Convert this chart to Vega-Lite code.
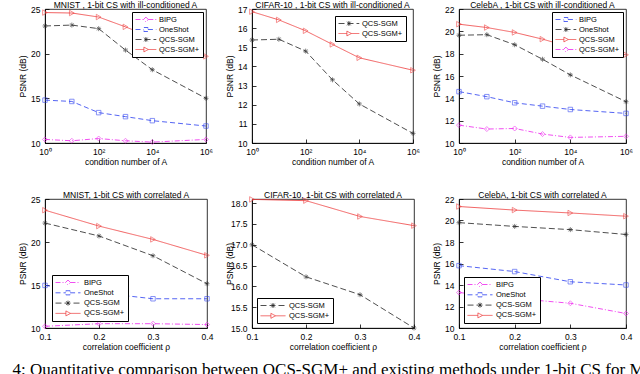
{
 "$schema": "https://vega.github.io/schema/vega-lite/v6.json",
 "padding": {"left": 12, "top": 0, "right": 0, "bottom": 0},
 "background": "white",
 "data": {"values": [
  {"p":"a","s":"QCS-SGM+","x":1,"y":24.6},{"p":"a","s":"QCS-SGM+","x":10,"y":24.55},{"p":"a","s":"QCS-SGM+","x":100,"y":24.1},{"p":"a","s":"QCS-SGM+","x":1000,"y":23.0},{"p":"a","s":"QCS-SGM+","x":10000,"y":21.8},{"p":"a","s":"QCS-SGM+","x":1000000,"y":19.7},
  {"p":"a","s":"QCS-SGM","x":1,"y":23.1},{"p":"a","s":"QCS-SGM","x":10,"y":23.2},{"p":"a","s":"QCS-SGM","x":100,"y":22.8},{"p":"a","s":"QCS-SGM","x":1000,"y":20.4},{"p":"a","s":"QCS-SGM","x":10000,"y":18.2},{"p":"a","s":"QCS-SGM","x":1000000,"y":15.0},
  {"p":"a","s":"OneShot","x":1,"y":14.8},{"p":"a","s":"OneShot","x":10,"y":14.65},{"p":"a","s":"OneShot","x":100,"y":13.4},{"p":"a","s":"OneShot","x":1000,"y":12.95},{"p":"a","s":"OneShot","x":10000,"y":12.5},{"p":"a","s":"OneShot","x":1000000,"y":11.9},
  {"p":"a","s":"BIPG","x":1,"y":10.4},{"p":"a","s":"BIPG","x":10,"y":10.25},{"p":"a","s":"BIPG","x":100,"y":10.5},{"p":"a","s":"BIPG","x":1000,"y":10.25},{"p":"a","s":"BIPG","x":10000,"y":10.1},{"p":"a","s":"BIPG","x":1000000,"y":10.4},
  {"p":"b","s":"QCS-SGM+","x":1,"y":16.86},{"p":"b","s":"QCS-SGM+","x":10,"y":16.43},{"p":"b","s":"QCS-SGM+","x":100,"y":15.86},{"p":"b","s":"QCS-SGM+","x":1000,"y":15.15},{"p":"b","s":"QCS-SGM+","x":10000,"y":14.45},{"p":"b","s":"QCS-SGM+","x":1000000,"y":13.8},
  {"p":"b","s":"QCS-SGM","x":1,"y":15.38},{"p":"b","s":"QCS-SGM","x":10,"y":15.42},{"p":"b","s":"QCS-SGM","x":100,"y":14.8},{"p":"b","s":"QCS-SGM","x":1000,"y":13.3},{"p":"b","s":"QCS-SGM","x":10000,"y":12.04},{"p":"b","s":"QCS-SGM","x":1000000,"y":10.5},
  {"p":"c","s":"QCS-SGM","x":1,"y":20.64},{"p":"c","s":"QCS-SGM","x":10,"y":20.34},{"p":"c","s":"QCS-SGM","x":100,"y":19.9},{"p":"c","s":"QCS-SGM","x":1000,"y":19.3},{"p":"c","s":"QCS-SGM","x":10000,"y":18.6},{"p":"c","s":"QCS-SGM","x":1000000,"y":17.9},
  {"p":"c","s":"OneShot","x":1,"y":19.65},{"p":"c","s":"OneShot","x":10,"y":19.7},{"p":"c","s":"OneShot","x":100,"y":18.8},{"p":"c","s":"OneShot","x":1000,"y":17.5},{"p":"c","s":"OneShot","x":10000,"y":16.1},{"p":"c","s":"OneShot","x":1000000,"y":13.7},
  {"p":"c","s":"BIPG","x":1,"y":14.6},{"p":"c","s":"BIPG","x":10,"y":14.15},{"p":"c","s":"BIPG","x":100,"y":13.6},{"p":"c","s":"BIPG","x":1000,"y":13.3},{"p":"c","s":"BIPG","x":10000,"y":13.0},{"p":"c","s":"BIPG","x":1000000,"y":12.65},
  {"p":"c","s":"QCS-SGM+","x":1,"y":11.6},{"p":"c","s":"QCS-SGM+","x":10,"y":11.25},{"p":"c","s":"QCS-SGM+","x":100,"y":11.3},{"p":"c","s":"QCS-SGM+","x":1000,"y":10.8},{"p":"c","s":"QCS-SGM+","x":10000,"y":10.5},{"p":"c","s":"QCS-SGM+","x":1000000,"y":10.6},
  {"p":"d","s":"QCS-SGM+","x":0.1,"y":23.7},{"p":"d","s":"QCS-SGM+","x":0.2,"y":21.85},{"p":"d","s":"QCS-SGM+","x":0.3,"y":20.3},{"p":"d","s":"QCS-SGM+","x":0.4,"y":18.45},
  {"p":"d","s":"QCS-SGM","x":0.1,"y":22.2},{"p":"d","s":"QCS-SGM","x":0.2,"y":20.7},{"p":"d","s":"QCS-SGM","x":0.3,"y":18.4},{"p":"d","s":"QCS-SGM","x":0.4,"y":15.15},
  {"p":"d","s":"OneShot","x":0.1,"y":14.95},{"p":"d","s":"OneShot","x":0.2,"y":14.1},{"p":"d","s":"OneShot","x":0.3,"y":13.4},{"p":"d","s":"OneShot","x":0.4,"y":13.4},
  {"p":"d","s":"BIPG","x":0.1,"y":10.2},{"p":"d","s":"BIPG","x":0.2,"y":10.5},{"p":"d","s":"BIPG","x":0.3,"y":10.5},{"p":"d","s":"BIPG","x":0.4,"y":10.4},
  {"p":"e","s":"QCS-SGM+","x":0.1,"y":18.09},{"p":"e","s":"QCS-SGM+","x":0.2,"y":18.06},{"p":"e","s":"QCS-SGM+","x":0.3,"y":17.68},{"p":"e","s":"QCS-SGM+","x":0.4,"y":17.46},
  {"p":"e","s":"QCS-SGM","x":0.1,"y":17.0},{"p":"e","s":"QCS-SGM","x":0.2,"y":16.23},{"p":"e","s":"QCS-SGM","x":0.3,"y":15.8},{"p":"e","s":"QCS-SGM","x":0.4,"y":15.0},
  {"p":"f","s":"QCS-SGM+","x":0.1,"y":21.3},{"p":"f","s":"QCS-SGM+","x":0.2,"y":20.97},{"p":"f","s":"QCS-SGM+","x":0.3,"y":20.7},{"p":"f","s":"QCS-SGM+","x":0.4,"y":20.4},
  {"p":"f","s":"QCS-SGM","x":0.1,"y":19.8},{"p":"f","s":"QCS-SGM","x":0.2,"y":19.45},{"p":"f","s":"QCS-SGM","x":0.3,"y":19.15},{"p":"f","s":"QCS-SGM","x":0.4,"y":18.7},
  {"p":"f","s":"OneShot","x":0.1,"y":15.8},{"p":"f","s":"OneShot","x":0.2,"y":15.25},{"p":"f","s":"OneShot","x":0.3,"y":14.3},{"p":"f","s":"OneShot","x":0.4,"y":14.0},
  {"p":"f","s":"BIPG","x":0.1,"y":13.3},{"p":"f","s":"BIPG","x":0.2,"y":12.75},{"p":"f","s":"BIPG","x":0.3,"y":12.3},{"p":"f","s":"BIPG","x":0.4,"y":11.35}
 ]},
 "title": {"text": "4: Quantitative comparison between QCS-SGM+ and existing methods under 1-bit CS for M", "orient": "bottom", "anchor": "start", "font": "Liberation Serif", "fontSize": 17, "fontWeight": "normal", "dx": -5, "offset": 11},
 "columns": 3,
 "spacing": {"row": 56, "column": 45},
 "bounds": "flush",
 "resolve": {"scale": {"color": "independent", "strokeDash": "independent", "x": "independent", "y": "independent"}, "legend": {"color": "independent", "strokeDash": "independent"}},
 "concat": [
  {
   "width": 161, "height": 134,
   "title": "MNIST , 1-bit CS with ill-conditioned A",
   "transform": [{"filter": "datum.p==='a'"}],
   "encoding": {
    "x": {"field": "x", "type": "quantitative", "scale": {"type": "log", "domain": [1, 1000000]}, "axis": {"values": [1, 100, 10000, 1000000], "labelExpr": "datum.value==1?'10⁰':datum.value==100?'10²':datum.value==10000?'10⁴':'10⁶'", "title": "condition number of A"}},
    "y": {"field": "y", "type": "quantitative", "scale": {"domain": [10, 25]}, "axis": {"values": [10, 15, 20, 25], "title": "PSNR (dB)"}}
   },
   "layer": [
    {"mark": {"type": "line", "strokeWidth": 0.8},
     "encoding": {
      "color": {"field": "s", "type": "nominal", "scale": {"domain": ["BIPG", "OneShot", "QCS-SGM", "QCS-SGM+"], "range": ["#ee22ee", "#2a3ef0", "#222222", "#ee3a3a"]}, "legend": {"orient": "top-right", "offset": 3, "labelOffset": 15, "encode": {"symbols": {"update": {"fill": {"value": "transparent"}, "shape": {"signal": "datum.value==='BIPG'?'M-1,0L1,0M2.2,0L4.2,0M1.6,-0.6L2.2,0L1.6,0.6L1,0Z':datum.value==='OneShot'?'M-1,0L1.1,0M2.1,0L4.2,0M1.1,-0.5L2.1,-0.5L2.1,0.5L1.1,0.5Z':datum.value==='QCS-SGM'?'M-1,0L4.2,0M1.6,-0.6L1.6,0.6M1.15,-0.45L2.05,0.45M1.15,0.45L2.05,-0.45':'M-1,0L1.1,0M2.2,0L4.2,0M1.1,-0.6L2.2,0L1.1,0.6Z'"}}}}}},
      "strokeDash": {"field": "s", "type": "nominal", "scale": {"domain": ["BIPG", "OneShot", "QCS-SGM", "QCS-SGM+"], "range": [[5, 2, 1, 2], [5, 3], [6, 3], [1, 0]]}}
     }},
    {"transform": [{"filter": "datum.s==='BIPG'"}], "mark": {"type": "point", "shape": "diamond", "color": "#ee22ee", "filled": false, "size": 25, "strokeWidth": 0.8}},
    {"transform": [{"filter": "datum.s==='OneShot'"}], "mark": {"type": "point", "shape": "square", "color": "#2a3ef0", "filled": false, "size": 20, "strokeWidth": 0.8}},
    {"transform": [{"filter": "datum.s==='QCS-SGM'"}], "mark": {"type": "point", "shape": "M-1,0L1,0M0,-1L0,1M-0.7,-0.7L0.7,0.7M-0.7,0.7L0.7,-0.7", "color": "#222222", "filled": false, "size": 25, "strokeWidth": 0.8}},
    {"transform": [{"filter": "datum.s==='QCS-SGM+'"}], "mark": {"type": "point", "shape": "triangle-right", "color": "#ee3a3a", "filled": false, "size": 30, "strokeWidth": 0.8}}
   ]
  },
  {
   "width": 161, "height": 134,
   "title": "CIFAR-10 , 1-bit CS with ill-conditioned A",
   "transform": [{"filter": "datum.p==='b'"}],
   "encoding": {
    "x": {"field": "x", "type": "quantitative", "scale": {"type": "log", "domain": [1, 1000000]}, "axis": {"values": [1, 100, 10000, 1000000], "labelExpr": "datum.value==1?'10⁰':datum.value==100?'10²':datum.value==10000?'10⁴':'10⁶'", "title": "condition number of A"}},
    "y": {"field": "y", "type": "quantitative", "scale": {"domain": [10, 17]}, "axis": {"values": [10, 11, 12, 13, 14, 15, 16, 17], "title": "PSNR (dB)"}}
   },
   "layer": [
    {"mark": {"type": "line", "strokeWidth": 0.8},
     "encoding": {
      "color": {"field": "s", "type": "nominal", "scale": {"domain": ["QCS-SGM", "QCS-SGM+"], "range": ["#222222", "#ee3a3a"]}, "legend": {"orient": "top-right", "offset": 7, "labelOffset": 15, "encode": {"symbols": {"update": {"fill": {"value": "transparent"}, "shape": {"signal": "datum.value==='QCS-SGM'?'M-1,0L4.2,0M1.6,-0.6L1.6,0.6M1.15,-0.45L2.05,0.45M1.15,0.45L2.05,-0.45':'M-1,0L1.1,0M2.2,0L4.2,0M1.1,-0.6L2.2,0L1.1,0.6Z'"}}}}}},
      "strokeDash": {"field": "s", "type": "nominal", "scale": {"domain": ["QCS-SGM", "QCS-SGM+"], "range": [[6, 3], [1, 0]]}}
     }},
    {"transform": [{"filter": "datum.s==='QCS-SGM'"}], "mark": {"type": "point", "shape": "M-1,0L1,0M0,-1L0,1M-0.7,-0.7L0.7,0.7M-0.7,0.7L0.7,-0.7", "color": "#222222", "filled": false, "size": 25, "strokeWidth": 0.8}},
    {"transform": [{"filter": "datum.s==='QCS-SGM+'"}], "mark": {"type": "point", "shape": "triangle-right", "color": "#ee3a3a", "filled": false, "size": 30, "strokeWidth": 0.8}}
   ]
  },
  {
   "width": 167, "height": 134,
   "title": "CelebA , 1-bit CS with ill-conditioned A",
   "transform": [{"filter": "datum.p==='c'"}],
   "encoding": {
    "x": {"field": "x", "type": "quantitative", "scale": {"type": "log", "domain": [1, 1000000]}, "axis": {"values": [1, 100, 10000, 1000000], "labelExpr": "datum.value==1?'10⁰':datum.value==100?'10²':datum.value==10000?'10⁴':'10⁶'", "title": "condition number of A"}},
    "y": {"field": "y", "type": "quantitative", "scale": {"domain": [10, 22]}, "axis": {"values": [10, 12, 14, 16, 18, 20, 22], "title": "PSNR (dB)"}}
   },
   "layer": [
    {"mark": {"type": "line", "strokeWidth": 0.8},
     "encoding": {
      "color": {"field": "s", "type": "nominal", "scale": {"domain": ["BIPG", "OneShot", "QCS-SGM", "QCS-SGM+"], "range": ["#2a3ef0", "#222222", "#ee3a3a", "#ee22ee"]}, "legend": {"orient": "top-right", "offset": 3, "labelOffset": 15, "encode": {"symbols": {"update": {"fill": {"value": "transparent"}, "shape": {"signal": "datum.value==='QCS-SGM+'?'M-1,0L1,0M2.2,0L4.2,0M1.6,-0.6L2.2,0L1.6,0.6L1,0Z':datum.value==='BIPG'?'M-1,0L1.1,0M2.1,0L4.2,0M1.1,-0.5L2.1,-0.5L2.1,0.5L1.1,0.5Z':datum.value==='OneShot'?'M-1,0L4.2,0M1.6,-0.6L1.6,0.6M1.15,-0.45L2.05,0.45M1.15,0.45L2.05,-0.45':'M-1,0L1.1,0M2.2,0L4.2,0M1.1,-0.6L2.2,0L1.1,0.6Z'"}}}}}},
      "strokeDash": {"field": "s", "type": "nominal", "scale": {"domain": ["BIPG", "OneShot", "QCS-SGM", "QCS-SGM+"], "range": [[5, 3], [6, 3], [1, 0], [5, 2, 1, 2]]}}
     }},
    {"transform": [{"filter": "datum.s==='QCS-SGM+'"}], "mark": {"type": "point", "shape": "diamond", "color": "#ee22ee", "filled": false, "size": 25, "strokeWidth": 0.8}},
    {"transform": [{"filter": "datum.s==='BIPG'"}], "mark": {"type": "point", "shape": "square", "color": "#2a3ef0", "filled": false, "size": 20, "strokeWidth": 0.8}},
    {"transform": [{"filter": "datum.s==='OneShot'"}], "mark": {"type": "point", "shape": "M-1,0L1,0M0,-1L0,1M-0.7,-0.7L0.7,0.7M-0.7,0.7L0.7,-0.7", "color": "#222222", "filled": false, "size": 25, "strokeWidth": 0.8}},
    {"transform": [{"filter": "datum.s==='QCS-SGM'"}], "mark": {"type": "point", "shape": "triangle-right", "color": "#ee3a3a", "filled": false, "size": 30, "strokeWidth": 0.8}}
   ]
  },
  {
   "width": 162, "height": 129,
   "title": "MNIST,  1-bit CS with correlated A",
   "transform": [{"filter": "datum.p==='d'"}],
   "encoding": {
    "x": {"field": "x", "type": "quantitative", "scale": {"domain": [0.1, 0.4]}, "axis": {"values": [0.1, 0.2, 0.3, 0.4], "format": ".1f", "title": "correlation coefficient ρ"}},
    "y": {"field": "y", "type": "quantitative", "scale": {"domain": [10, 25]}, "axis": {"values": [10, 15, 20, 25], "title": "PSNR (dB)"}}
   },
   "layer": [
    {"mark": {"type": "line", "strokeWidth": 0.8},
     "encoding": {
      "color": {"field": "s", "type": "nominal", "scale": {"domain": ["BIPG", "OneShot", "QCS-SGM", "QCS-SGM+"], "range": ["#ee22ee", "#2a3ef0", "#222222", "#ee3a3a"]}, "legend": {"orient": "bottom-left", "offset": 7, "labelOffset": 20, "rowPadding": 1.3, "encode": {"symbols": {"update": {"fill": {"value": "transparent"}, "shape": {"signal": "datum.value==='BIPG'?'M-1,0L1.5,0M2.75,0L5.25,0M2.125,-0.62L2.75,0L2.125,0.62L1.5,0Z':datum.value==='OneShot'?'M-1,0L1.6,0M2.65,0L5.25,0M1.6,-0.52L2.65,-0.52L2.65,0.52L1.6,0.52Z':datum.value==='QCS-SGM'?'M-1,0L5.25,0M2.125,-0.62L2.125,0.62M1.68,-0.45L2.57,0.45M1.68,0.45L2.57,-0.45':'M-1,0L1.6,0M2.75,0L5.25,0M1.6,-0.62L2.75,0L1.6,0.62Z'"}}}}}},
      "strokeDash": {"field": "s", "type": "nominal", "scale": {"domain": ["BIPG", "OneShot", "QCS-SGM", "QCS-SGM+"], "range": [[5, 2, 1, 2], [5, 3], [6, 3], [1, 0]]}}
     }},
    {"transform": [{"filter": "datum.s==='BIPG'"}], "mark": {"type": "point", "shape": "diamond", "color": "#ee22ee", "filled": false, "size": 25, "strokeWidth": 0.8}},
    {"transform": [{"filter": "datum.s==='OneShot'"}], "mark": {"type": "point", "shape": "square", "color": "#2a3ef0", "filled": false, "size": 20, "strokeWidth": 0.8}},
    {"transform": [{"filter": "datum.s==='QCS-SGM'"}], "mark": {"type": "point", "shape": "M-1,0L1,0M0,-1L0,1M-0.7,-0.7L0.7,0.7M-0.7,0.7L0.7,-0.7", "color": "#222222", "filled": false, "size": 25, "strokeWidth": 0.8}},
    {"transform": [{"filter": "datum.s==='QCS-SGM+'"}], "mark": {"type": "point", "shape": "triangle-right", "color": "#ee3a3a", "filled": false, "size": 30, "strokeWidth": 0.8}}
   ]
  },
  {
   "width": 162, "height": 129,
   "title": "CIFAR-10,  1-bit CS with correlated A",
   "transform": [{"filter": "datum.p==='e'"}],
   "encoding": {
    "x": {"field": "x", "type": "quantitative", "scale": {"domain": [0.1, 0.4]}, "axis": {"values": [0.1, 0.2, 0.3, 0.4], "format": ".1f", "title": "correlation coefficient ρ"}},
    "y": {"field": "y", "type": "quantitative", "scale": {"domain": [15, 18.1], "nice": false}, "axis": {"values": [15, 15.5, 16, 16.5, 17, 17.5, 18], "title": "PSNR (dB)"}}
   },
   "layer": [
    {"mark": {"type": "line", "strokeWidth": 0.8},
     "encoding": {
      "color": {"field": "s", "type": "nominal", "scale": {"domain": ["QCS-SGM", "QCS-SGM+"], "range": ["#222222", "#ee3a3a"]}, "legend": {"orient": "bottom-left", "offset": 5, "labelOffset": 20, "rowPadding": 1.3, "encode": {"symbols": {"update": {"fill": {"value": "transparent"}, "shape": {"signal": "datum.value==='QCS-SGM'?'M-1,0L5.25,0M2.125,-0.62L2.125,0.62M1.68,-0.45L2.57,0.45M1.68,0.45L2.57,-0.45':'M-1,0L1.6,0M2.75,0L5.25,0M1.6,-0.62L2.75,0L1.6,0.62Z'"}}}}}},
      "strokeDash": {"field": "s", "type": "nominal", "scale": {"domain": ["QCS-SGM", "QCS-SGM+"], "range": [[6, 3], [1, 0]]}}
     }},
    {"transform": [{"filter": "datum.s==='QCS-SGM'"}], "mark": {"type": "point", "shape": "M-1,0L1,0M0,-1L0,1M-0.7,-0.7L0.7,0.7M-0.7,0.7L0.7,-0.7", "color": "#222222", "filled": false, "size": 25, "strokeWidth": 0.8}},
    {"transform": [{"filter": "datum.s==='QCS-SGM+'"}], "mark": {"type": "point", "shape": "triangle-right", "color": "#ee3a3a", "filled": false, "size": 30, "strokeWidth": 0.8}}
   ]
  },
  {
   "width": 167, "height": 129,
   "title": "CelebA,  1-bit CS with correlated A",
   "transform": [{"filter": "datum.p==='f'"}],
   "encoding": {
    "x": {"field": "x", "type": "quantitative", "scale": {"domain": [0.1, 0.4]}, "axis": {"values": [0.1, 0.2, 0.3, 0.4], "format": ".1f", "title": "correlation coefficient ρ"}},
    "y": {"field": "y", "type": "quantitative", "scale": {"domain": [10, 22]}, "axis": {"values": [10, 12, 14, 16, 18, 20, 22], "title": "PSNR (dB)"}}
   },
   "layer": [
    {"mark": {"type": "line", "strokeWidth": 0.8},
     "encoding": {
      "color": {"field": "s", "type": "nominal", "scale": {"domain": ["BIPG", "OneShot", "QCS-SGM", "QCS-SGM+"], "range": ["#ee22ee", "#2a3ef0", "#222222", "#ee3a3a"]}, "legend": {"orient": "bottom-left", "offset": 5, "labelOffset": 20, "rowPadding": 1.3, "encode": {"symbols": {"update": {"fill": {"value": "transparent"}, "shape": {"signal": "datum.value==='BIPG'?'M-1,0L1.5,0M2.75,0L5.25,0M2.125,-0.62L2.75,0L2.125,0.62L1.5,0Z':datum.value==='OneShot'?'M-1,0L1.6,0M2.65,0L5.25,0M1.6,-0.52L2.65,-0.52L2.65,0.52L1.6,0.52Z':datum.value==='QCS-SGM'?'M-1,0L5.25,0M2.125,-0.62L2.125,0.62M1.68,-0.45L2.57,0.45M1.68,0.45L2.57,-0.45':'M-1,0L1.6,0M2.75,0L5.25,0M1.6,-0.62L2.75,0L1.6,0.62Z'"}}}}}},
      "strokeDash": {"field": "s", "type": "nominal", "scale": {"domain": ["BIPG", "OneShot", "QCS-SGM", "QCS-SGM+"], "range": [[5, 2, 1, 2], [5, 3], [6, 3], [1, 0]]}}
     }},
    {"transform": [{"filter": "datum.s==='BIPG'"}], "mark": {"type": "point", "shape": "diamond", "color": "#ee22ee", "filled": false, "size": 25, "strokeWidth": 0.8}},
    {"transform": [{"filter": "datum.s==='OneShot'"}], "mark": {"type": "point", "shape": "square", "color": "#2a3ef0", "filled": false, "size": 20, "strokeWidth": 0.8}},
    {"transform": [{"filter": "datum.s==='QCS-SGM'"}], "mark": {"type": "point", "shape": "M-1,0L1,0M0,-1L0,1M-0.7,-0.7L0.7,0.7M-0.7,0.7L0.7,-0.7", "color": "#222222", "filled": false, "size": 25, "strokeWidth": 0.8}},
    {"transform": [{"filter": "datum.s==='QCS-SGM+'"}], "mark": {"type": "point", "shape": "triangle-right", "color": "#ee3a3a", "filled": false, "size": 30, "strokeWidth": 0.8}}
   ]
  }
 ],
 "config": {
  "font": "Liberation Sans",
  "view": {"stroke": "black", "strokeWidth": 0.8},
  "axis": {"grid": false, "domainColor": "black", "domainWidth": 0.8, "tickColor": "black", "tickWidth": 0.8, "tickSize": -4, "labelColor": "black", "titleColor": "black", "labelFontSize": 8.5, "titleFontSize": 8.5, "titleFontWeight": "normal", "labelFlush": false, "labelOverlap": false},
  "axisY": {"labelPadding": 9, "titleX": -18},
  "axisX": {"labelPadding": 8, "titlePadding": 2},
  "title": {"fontSize": 8.5, "fontWeight": "normal", "offset": -4, "color": "black"},
  "legend": {"title": null, "strokeColor": "black", "fillColor": "white", "padding": 3, "labelFontSize": 7.5, "labelColor": "black", "symbolStrokeWidth": 0.8, "symbolSize": 64, "rowPadding": 1, "cornerRadius": 0}
 }
}
